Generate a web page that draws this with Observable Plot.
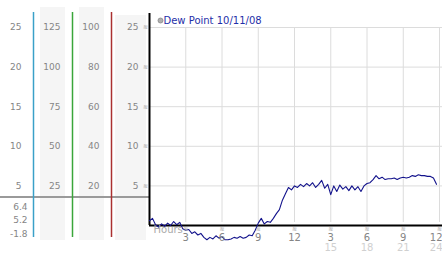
<!DOCTYPE html>
<html><head><meta charset="utf-8">
<script src="https://cdn.jsdelivr.net/npm/d3@7"></script>
<script src="https://cdn.jsdelivr.net/npm/@observablehq/plot@0.6"></script>
<style>
html,body{margin:0;padding:0;background:#fff;}
#wrap{position:relative;width:442px;height:253px;overflow:hidden;}
#left{position:absolute;top:0;left:0;width:149px;height:253px;}
#right{position:absolute;top:0;left:145px;width:297px;height:253px;}
</style></head><body><div id="wrap"><div id="left"></div><div id="right"></div></div>
<script>
// ---- data ----
const hours = [0,0.25,0.5,0.75,1,1.25,1.5,1.75,2,2.25,2.5,2.75,3,3.25,3.5,3.75,4,4.25,4.5,4.75,5,5.25,5.5,5.75,6,6.25,6.5,6.75,7,7.25,7.5,7.75,8,8.25,8.5,8.75,9,9.25,9.5,9.75,10,10.25,10.5,10.75,11,11.25,11.5,11.75,12,12.25,12.5,12.75,13,13.25,13.5,13.75,14,14.25,14.5,14.75,15,15.25,15.5,15.75,16,16.25,16.5,16.75,17,17.25,17.5,17.75,18,18.25,18.5,18.75,19,19.25,19.5,19.75,20,20.25,20.5,20.75,21,21.25,21.5,21.75,22,22.25,22.5,22.75,23,23.25,23.5,23.75];
const dewPoint = [0.6,0.9,0.1,-0.2,0.2,-0.1,0.3,0.0,0.5,0.1,0.4,-0.4,-0.6,-0.5,-1.0,-0.8,-1.2,-1.0,-1.5,-1.8,-1.5,-1.7,-1.3,-1.6,-1.4,-1.8,-1.8,-1.7,-1.5,-1.6,-1.4,-1.6,-1.5,-1.2,-1.3,-0.6,0.3,0.9,0.2,0.5,0.4,0.9,1.5,2.0,3.2,4.0,4.8,4.5,5.0,4.8,5.2,4.9,5.3,5.0,5.4,4.8,5.2,5.7,4.7,5.2,3.9,5.0,4.3,5.1,4.6,4.9,4.4,5.0,4.5,4.9,4.3,5.0,5.3,5.4,5.8,6.3,5.9,6.1,5.8,5.9,5.9,6.0,5.8,6.0,6.1,6.0,6.1,6.3,6.2,6.4,6.3,6.3,6.2,6.2,6.0,5.2];
const yTicks = [5,10,15,20,25];
const xTicks = [3,6,9,12,15,18,21,24];
const xTickLabels = ["3","6","9","12","3","6","9","12"];
const xTicks2 = [15,18,21,24];
const xTickLabels2 = ["15","18","21","24"];
const columns = [0,1,2,3];
const columnFactors = [1,5,4,1];
const columnColors = ["none","#3aa0c8","#3aa63a","#aa3030"];
const stats = ["6.4","5.2","-1.8"];
const legendLabel = "Dew Point 10/11/08";
const xAxisTitle = "Hours";

const series = hours.map((h,i)=>({hour:h, value:dewPoint[i]}));
const cells = columns.flatMap(c => yTicks.map(v => ({col:c, value:v, label:String(v*columnFactors[c])})));
const tickRow1 = xTicks.map((t,i)=>({t, label:xTickLabels[i], last:i===xTicks.length-1}));
const tickRow2 = xTicks2.map((t,i)=>({t, label:xTickLabels2[i], last:i===xTicks2.length-1}));
const font = {fontFamily:"'DejaVu Sans', Verdana, sans-serif", fontSize:"9px", background:"transparent", overflow:"visible"};
const yScale = {domain:[0,25], range:[225,27], axis:null};

const left = Plot.plot({
  width:149, height:253, marginTop:7, marginBottom:13, marginLeft:0, marginRight:0,
  style:font,
  x:{domain:[0,4], range:[-6,150], axis:null},
  y:yScale,
  marks:[
    Plot.barX([1,2], {x1:d=>d, x2:d=>d+1, insetLeft:7, insetRight:7, fill:"#f5f5f5"}),
    Plot.barX([3], {x1:d=>d, x2:d=>d+1, insetLeft:4, insetRight:4, insetTop:8, fill:"#f5f5f5"}),
    Plot.ruleY([yTicks[0]], {dy:11, stroke:"#9a9a9a", strokeWidth:2}),
    Plot.ruleX([1,2,3], {x:d=>d, stroke:d=>columnColors[d], strokeWidth:1.5, insetTop:5, insetBottom:3}),
    Plot.text(cells, {x:"col", y:"value", text:"label", dx:27, textAnchor:"end", fill:"#858585"}),
    Plot.text(yTicks, {x:()=>3, y:d=>d, text:()=>"≋", dx:34, fontSize:6, fill:"#a0a0a0"}),
    Plot.text([stats.join("\n")], {x:()=>0, frameAnchor:"bottom", lineAnchor:"bottom", text:d=>d, dx:33, dy:-4, lineHeight:1.5, textAnchor:"end", fill:"#858585"})
  ]
});
document.getElementById("left").appendChild(left);

const right = Plot.plot({
  width:297, height:253, marginTop:13, marginBottom:28, marginLeft:4, marginRight:0,
  style:font,
  x:{domain:[0,24], range:[4,294], axis:null},
  y:yScale,
  marks:[
    Plot.ruleY(yTicks, {stroke:"#dcdcdc"}),
    Plot.ruleX(xTicks, {y1:0, y2:25, insetTop:-3, stroke:"#dcdcdc"}),
    Plot.ruleY([0], {stroke:"#000", strokeWidth:2}),
    Plot.ruleX([0], {stroke:"#000", strokeWidth:2}),
    Plot.line(series, {x:"hour", y:"value", stroke:"#13138c", strokeWidth:1.1}),
    Plot.text(xTicks, {x:d=>d, text:()=>"≋", frameAnchor:"bottom", dy:5, fontSize:6, fill:"#a0a0a0"}),
    Plot.text(tickRow1.filter(d=>!d.last), {x:"t", text:"label", frameAnchor:"bottom", dy:15, fill:"#858585", fontSize:10}),
    Plot.text(tickRow1.filter(d=>d.last), {x:"t", text:"label", frameAnchor:"bottom", dy:15, dx:3, textAnchor:"end", fill:"#858585", fontSize:10}),
    Plot.text(tickRow2.filter(d=>!d.last), {x:"t", text:"label", frameAnchor:"bottom", dy:25, fill:"#d0d0d0", fontSize:10}),
    Plot.text(tickRow2.filter(d=>d.last), {x:"t", text:"label", frameAnchor:"bottom", dy:25, dx:3, textAnchor:"end", fill:"#d0d0d0", fontSize:10}),
    Plot.text([xAxisTitle], {frameAnchor:"bottom-left", dx:4, dy:7, textAnchor:"start", fill:"#aaaaaa", fontSize:10}),
    Plot.dot([legendLabel], {x:()=>0, y:()=>25, dx:11, dy:-7, r:2.5, fill:"#b0b0b0", stroke:"#888", strokeWidth:0.8}),
    Plot.text([legendLabel], {x:()=>0, y:()=>25, dx:14, dy:-7, text:d=>d, textAnchor:"start", fill:"#1f2fa8", fontSize:10})
  ]
});
document.getElementById("right").appendChild(right);
</script></body></html>
